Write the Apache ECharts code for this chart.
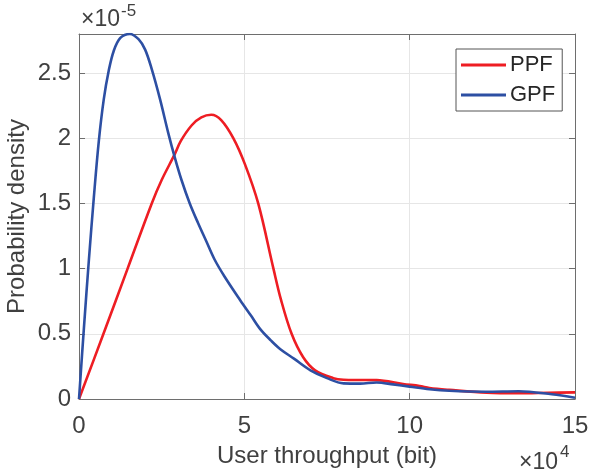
<!DOCTYPE html>
<html>
<head>
<meta charset="utf-8">
<script src="https://cdn.jsdelivr.net/npm/echarts@6/dist/echarts.min.js"></script>
<style>
  html, body { margin: 0; padding: 0; background: #fff; }
  #chart { width: 590px; height: 475px; }
</style>
</head>
<body>
<div id="chart"></div>
<script>
// Throughput in units of 1e4 bit, density in units of 1e-5
const ppfX = [0, 0.74, 1.47, 2.2, 2.5, 2.9, 3.08, 3.41, 3.7, 4.0, 4.3, 4.67, 5.02, 5.42, 5.88, 6.11, 6.43, 6.78, 7.14, 7.69, 8.0, 8.5, 9.0, 9.8, 10.3, 10.6, 11.2, 12.33, 13.3, 14.2, 15];
const ppfY = [0, 0.5, 1.0, 1.5, 1.68, 1.88, 1.98, 2.1, 2.16, 2.18, 2.14, 2.0, 1.8, 1.5, 1.0, 0.76, 0.5, 0.32, 0.22, 0.16, 0.148, 0.146, 0.145, 0.115, 0.1, 0.085, 0.07, 0.048, 0.044, 0.048, 0.051];

const gpfX = [0, 0.15, 0.3, 0.45, 0.6, 0.75, 0.9, 1.05, 1.25, 1.54, 1.8, 2.0, 2.2, 2.45, 2.7, 2.9, 3.1, 3.35, 3.6, 3.85, 4.1, 4.4, 4.87, 5.2, 5.5, 5.8, 6.1, 6.5, 7.0, 7.5, 8.0, 8.5, 9.0, 9.5, 10.0, 10.6, 11.2, 12.3, 13.3, 14.3, 15];
const gpfY = [0, 0.55, 1.07, 1.55, 1.98, 2.3, 2.52, 2.67, 2.77, 2.8, 2.76, 2.68, 2.53, 2.3, 2.04, 1.85, 1.68, 1.5, 1.35, 1.21, 1.07, 0.94, 0.76, 0.64, 0.53, 0.45, 0.38, 0.31, 0.22, 0.16, 0.12, 0.118, 0.127, 0.112, 0.095, 0.075, 0.063, 0.056, 0.06, 0.036, 0.01];

const xTicks = [0, 5, 10, 15];
const yTicks = [0, 0.5, 1, 1.5, 2, 2.5];

const seriesNames = ['PPF', 'GPF'];
const seriesColors = ['#ee1d23', '#2d4fa3'];

const font = '"Liberation Sans", Arial, Helvetica, sans-serif';
const textColor = '#404040';
const axisColor = '#6e6e6e';

function pairs(xs, ys) {
  return xs.map((x, i) => [x, ys[i]]);
}

function isTick(list, v) {
  return list.some(t => Math.abs(t - v) < 1e-6);
}

const chart = echarts.init(document.getElementById('chart'), null, { renderer: 'canvas' });

const baseAxis = {
  type: 'value',
  axisLine: { show: true, onZero: false, lineStyle: { color: axisColor, width: 1 } },
  axisTick: { show: true, inside: true, length: 6, lineStyle: { color: axisColor } }
};

chart.setOption({
  animation: false,
  backgroundColor: '#ffffff',
  grid: { left: 79, right: 15, top: 34, bottom: 76, containLabel: false, outerBoundsMode: 'none' },
  legend: {
    orient: 'vertical',
    left: 456,
    top: 49,
    padding: [5, 7, 5, 5],
    icon: 'rect',
    itemWidth: 45,
    itemHeight: 3,
    itemGap: 8,
    borderColor: '#555',
    borderWidth: 1,
    backgroundColor: '#fff',
    textStyle: { fontFamily: font, fontSize: 22, color: '#262626', padding: [0, 0, 0, -1] },
    data: seriesNames
  },
  xAxis: [
    Object.assign({}, baseAxis, {
      position: 'bottom',
      min: 0, max: 15, interval: 5,
      axisLabel: {
        margin: 15, fontSize: 24, color: textColor, fontFamily: font,
        formatter: v => isTick(xTicks, v) ? String(v) : ''
      },
      splitLine: { show: true, lineStyle: { color: '#e6e6e6', width: 1 } },
      name: 'User throughput (bit)',
      nameLocation: 'middle',
      nameGap: 45,
      nameMoveOverlap: false,
      nameTextStyle: { fontSize: 24, color: textColor, fontFamily: font }
    }),
    Object.assign({}, baseAxis, {
      position: 'top',
      min: 0, max: 15, interval: 5,
      axisLabel: { show: false },
      splitLine: { show: false }
    })
  ],
  yAxis: [
    Object.assign({}, baseAxis, {
      position: 'left',
      min: 0, max: 2.8, interval: 0.5,
      axisLabel: {
        margin: 8, fontSize: 24, color: textColor, fontFamily: font,
        formatter: v => isTick(yTicks, v) ? String(+v.toFixed(1)) : ''
      },
      splitLine: { show: true, lineStyle: { color: '#e6e6e6', width: 1 } },
      name: 'Probability density',
      nameLocation: 'middle',
      nameGap: 50,
      nameMoveOverlap: false,
      nameTextStyle: { fontSize: 24, color: textColor, fontFamily: font }
    }),
    Object.assign({}, baseAxis, {
      position: 'right',
      min: 0, max: 2.8, interval: 0.5,
      axisLabel: { show: false },
      splitLine: { show: false }
    })
  ],
  series: [
    {
      name: seriesNames[0],
      type: 'line',
      data: pairs(ppfX, ppfY),
      smooth: 0.35,
      symbol: 'none',
      lineStyle: { color: seriesColors[0], width: 2.6 },
      itemStyle: { color: seriesColors[0] },
      z: 3
    },
    {
      name: seriesNames[1],
      type: 'line',
      data: pairs(gpfX, gpfY),
      smooth: 0.35,
      symbol: 'none',
      lineStyle: { color: seriesColors[1], width: 2.6 },
      itemStyle: { color: seriesColors[1] },
      z: 4
    }
  ],
  graphic: [
    // exponent of the y axis: ×10^-5
    { type: 'text', left: 81, top: 8, style: { text: '×10', font: '23px ' + font, fill: textColor } },
    { type: 'text', left: 121, top: 3, style: { text: '-5', font: '17px ' + font, fill: textColor } },
    // exponent of the x axis: ×10^4
    { type: 'text', left: 519, top: 451, style: { text: '×10', font: '23px ' + font, fill: textColor } },
    { type: 'text', left: 560, top: 444, style: { text: '4', font: '17px ' + font, fill: textColor } }
  ]
});
</script>
</body>
</html>
